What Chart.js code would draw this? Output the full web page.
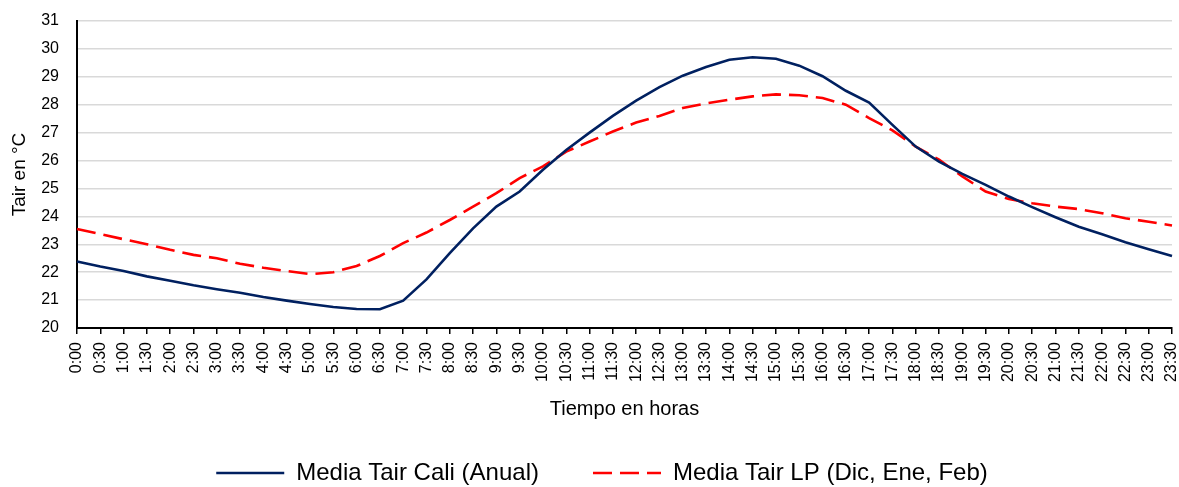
<!DOCTYPE html>
<html>
<head>
<meta charset="utf-8">
<script src="https://cdn.jsdelivr.net/npm/chart.js@4/dist/chart.umd.min.js"></script>
<style>
  html, body { margin: 0; padding: 0; background: #ffffff; overflow: hidden; }
  #wrap { width: 1179px; height: 487px; }
</style>
</head>
<body>
<div id="wrap"><canvas id="c" width="1179" height="487"></canvas></div>
<script>
const timeLabels = ["0:00","0:30","1:00","1:30","2:00","2:30","3:00","3:30","4:00","4:30","5:00","5:30",
  "6:00","6:30","7:00","7:30","8:00","8:30","9:00","9:30","10:00","10:30","11:00","11:30",
  "12:00","12:30","13:00","13:30","14:00","14:30","15:00","15:30","16:00","16:30","17:00","17:30",
  "18:00","18:30","19:00","19:30","20:00","20:30","21:00","21:30","22:00","22:30","23:00","23:30"];

const caliAnual = [22.38, 22.20, 22.04, 21.85, 21.69, 21.53, 21.39, 21.26, 21.11, 20.98, 20.86, 20.75,
  20.68, 20.67, 20.98, 21.74, 22.68, 23.57, 24.35, 24.89, 25.67, 26.38, 27.00, 27.60,
  28.15, 28.63, 29.04, 29.35, 29.61, 29.70, 29.65, 29.40, 29.02, 28.50, 28.08, 27.28,
  26.50, 25.96, 25.52, 25.13, 24.71, 24.33, 23.97, 23.63, 23.36, 23.07, 22.82, 22.58];

const lpDicEneFeb = [23.55, 23.37, 23.18, 23.00, 22.80, 22.62, 22.50, 22.30, 22.16, 22.04, 21.93, 22.00,
  22.22, 22.58, 23.04, 23.42, 23.87, 24.35, 24.83, 25.37, 25.79, 26.32, 26.68, 27.04,
  27.36, 27.60, 27.88, 28.05, 28.18, 28.30, 28.37, 28.34, 28.24, 28.00, 27.52, 27.08,
  26.50, 26.03, 25.43, 24.89, 24.62, 24.47, 24.35, 24.26, 24.11, 23.93, 23.81, 23.67];

const seriesNames = ["Media Tair Cali (Anual)", "Media Tair LP (Dic, Ene, Feb)"];
const yTitle = "Tair en °C";
const xTitle = "Tiempo en horas";

const FONT = "'Liberation Sans', Arial, Helvetica, sans-serif";

new Chart(document.getElementById('c'), {
  type: 'line',
  data: {
    labels: timeLabels,
    datasets: [
      {
        label: seriesNames[0],
        data: caliAnual,
        borderColor: '#002060',
        backgroundColor: '#002060',
        borderWidth: 2.6,
        pointRadius: 0,
        tension: 0,
        fill: false
      },
      {
        label: seriesNames[1],
        data: lpDicEneFeb,
        borderColor: '#ff0000',
        backgroundColor: '#ff0000',
        borderWidth: 2.6,
        borderDash: [19, 8],
        pointRadius: 0,
        tension: 0,
        fill: false
      }
    ]
  },
  options: {
    responsive: false,
    animation: false,
    layout: { padding: { left: 32, right: 7, top: 21, bottom: 0 } },
    plugins: {
      tooltip: { enabled: false },
      legend: {
        position: 'bottom',
        maxHeight: 80,
        labels: {
          usePointStyle: true,
          pointStyle: 'line',
          pointStyleWidth: 68,
          padding: 54,
          color: '#000000',
          font: { family: FONT, size: 24 },
          generateLabels: function (chart) {
            const items = Chart.defaults.plugins.legend.labels.generateLabels(chart);
            items.forEach(function (it) {
              const ds = chart.data.datasets[it.datasetIndex];
              it.lineDash = ds.borderDash || [];
              it.lineWidth = 2.6;
              it.strokeStyle = ds.borderColor;
              it.fillStyle = ds.borderColor;
              it.pointStyle = 'line';
            });
            return items;
          }
        }
      }
    },
    scales: {
      x: {
        offset: false,
        afterFit: function (scale) {
          scale.paddingLeft = 0;
          scale.paddingRight = 0;
          scale.height = 79;
        },
        grid: {
          display: true,
          drawOnChartArea: false,
          drawTicks: true,
          tickLength: 6,
          color: '#000000',
          lineWidth: 1.5
        },
        border: { display: true, color: '#000000', width: 2 },
        ticks: {
          autoSkip: false,
          minRotation: 90,
          maxRotation: 90,
          padding: 8,
          color: '#000000',
          font: { family: FONT, size: 16 }
        },
        title: {
          display: true,
          text: xTitle,
          color: '#000000',
          padding: { top: 15, bottom: -14 },
          font: { family: FONT, size: 20 }
        }
      },
      y: {
        min: 20,
        max: 31,
        afterFit: function (scale) {
          scale.width = 45;
          scale.paddingTop = 0;
          scale.paddingBottom = 0;
        },
        grid: {
          color: '#d9d9d9',
          lineWidth: 1.5,
          drawTicks: false
        },
        border: { display: true, color: '#000000', width: 2 },
        ticks: {
          stepSize: 1,
          padding: 18,
          color: '#000000',
          font: { family: FONT, size: 16 }
        },
        title: {
          display: true,
          text: yTitle,
          color: '#000000',
          padding: { top: -23.4, bottom: 0 },
          font: { family: FONT, size: 19 }
        }
      }
    }
  }
});
</script>
</body>
</html>
